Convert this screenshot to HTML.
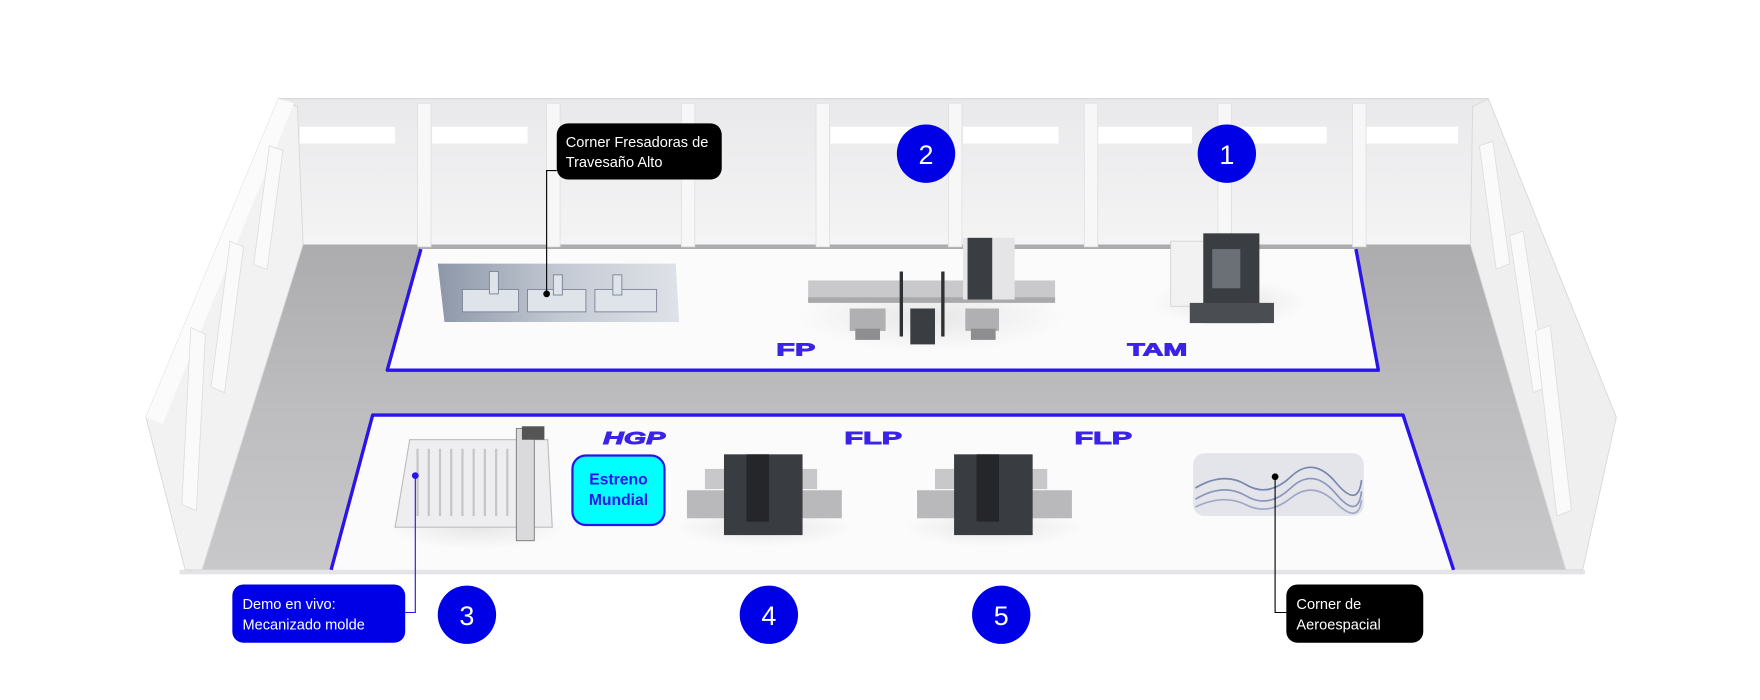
<!DOCTYPE html>
<html><head><meta charset="utf-8"><style>
html,body{margin:0;padding:0;background:#fff;width:1760px;height:700px;overflow:hidden}
svg{display:block}
text{font-family:"Liberation Sans",sans-serif}
</style></head><body>
<svg width="1760" height="700" viewBox="0 0 1568 624" preserveAspectRatio="none" xmlns="http://www.w3.org/2000/svg">
<defs>
<linearGradient id="fl" x1="0" y1="0" x2="0" y2="1"><stop offset="0" stop-color="#acacae"/><stop offset="0.5" stop-color="#bdbdbf"/><stop offset="1" stop-color="#c8c8ca"/></linearGradient>
<linearGradient id="bw" x1="0" y1="0" x2="0" y2="1"><stop offset="0" stop-color="#e9e9eb"/><stop offset="1" stop-color="#f4f4f5"/></linearGradient>
<linearGradient id="pan" x1="0" y1="0" x2="1" y2="0"><stop offset="0" stop-color="#8d97a8"/><stop offset="0.5" stop-color="#c3c9d3"/><stop offset="1" stop-color="#dfe2e8"/></linearGradient>
<radialGradient id="sh" cx="0.5" cy="0.5" r="0.5"><stop offset="0" stop-color="#000" stop-opacity="0.08"/><stop offset="1" stop-color="#000" stop-opacity="0"/></radialGradient>
</defs>
<polygon points="270,218 1310,218 1395,508 178,508" fill="url(#fl)"/>
<rect x="160" y="508" width="1252" height="4" fill="#e4e4e6"/>
<polygon points="248,88 1326,88 1312,95 1310,218 270,218 265,95" fill="url(#bw)"/>
<line x1="248" y1="88" x2="1326" y2="88" stroke="#d4d4d6" stroke-width="1"/>
<g fill="#ffffff">
<rect x="267" y="113" width="85" height="15"/><rect x="385" y="113" width="85" height="15"/><rect x="505" y="113" width="85" height="15"/>
<rect x="740" y="113" width="85" height="15"/><rect x="858" y="113" width="85" height="15"/><rect x="977" y="113" width="85" height="15"/>
<rect x="1097" y="113" width="85" height="15"/><rect x="1214" y="113" width="85" height="15"/>
</g>
<g fill="#f7f7f8" stroke="#dedee0" stroke-width="0.7">
<rect x="372" y="92" width="12" height="128"/><rect x="487" y="92" width="12" height="128"/><rect x="607" y="92" width="12" height="128"/>
<rect x="727" y="92" width="12" height="128"/><rect x="845" y="92" width="12" height="128"/><rect x="966" y="92" width="12" height="128"/>
<rect x="1085" y="92" width="12" height="128"/><rect x="1205" y="92" width="12" height="128"/>
</g>
<polygon points="248,88 265,95 270,218 180,508 165,508 130,372" fill="#f2f2f3" stroke="#d8d8da" stroke-width="0.8"/>
<polygon points="248,88 262,92 145,378 130,372" fill="#fbfbfb"/>
<g fill="#fafafa" stroke="#dcdcde" stroke-width="0.7">
<polygon points="240,130 252,134 238,240 226,236"/>
<polygon points="205,215 217,220 200,350 188,345"/>
<polygon points="170,292 183,298 175,455 162,450"/>
</g>
<polygon points="1326,88 1312,95 1310,218 1395,508 1410,508 1440,372" fill="#efeff0" stroke="#d8d8da" stroke-width="0.8"/>
<g fill="#fafafa" stroke="#dcdcde" stroke-width="0.7">
<polygon points="1318,130 1330,126 1345,235 1333,240"/>
<polygon points="1345,210 1357,206 1378,345 1366,350"/>
<polygon points="1368,295 1381,290 1400,455 1387,460"/>
</g>
<polygon points="375,222 1208,222 1228,330 345,330" fill="#fbfbfb"/>
<polyline points="375,222 345,330 1228,330 1208,222" fill="none" stroke="#2b14e8" stroke-width="3" stroke-linejoin="round"/>
<polygon points="332,370 1250,370 1295,508 295,508" fill="#fbfbfb"/>
<polyline points="295,508 332,370 1250,370 1295,508" fill="none" stroke="#2b14e8" stroke-width="3" stroke-linejoin="round"/>
<polygon points="390,235 602,235 605,287 396,287" fill="url(#pan)"/>
<g fill="#dfe3ea" stroke="#7a8394" stroke-width="0.8">
<rect x="412" y="258" width="50" height="20"/><rect x="470" y="258" width="52" height="20"/><rect x="530" y="258" width="55" height="20"/>
<rect x="436" y="242" width="8" height="20"/><rect x="493" y="245" width="8" height="18"/><rect x="546" y="245" width="8" height="18"/>
</g>
<ellipse cx="830" cy="282" rx="120" ry="32" fill="url(#sh)"/>
<rect x="720" y="250" width="220" height="18" fill="#c9c9cb"/>
<rect x="720" y="265" width="220" height="5" fill="#a9a9ab"/>
<rect x="858" y="212" width="46" height="55" fill="#e5e5e7"/>
<rect x="862" y="212" width="22" height="55" fill="#3a3d42"/>
<rect x="757" y="275" width="32" height="20" fill="#b0b0b2"/><rect x="762" y="293" width="22" height="10" fill="#8e8e90"/>
<rect x="860" y="275" width="30" height="20" fill="#b0b0b2"/><rect x="865" y="293" width="22" height="10" fill="#8e8e90"/>
<g stroke="#2d3035" stroke-width="3"><line x1="803" y1="242" x2="803" y2="300"/><line x1="840" y1="242" x2="840" y2="300"/></g>
<rect x="811" y="275" width="22" height="32" fill="#3a3d42"/>
<ellipse cx="1095" cy="270" rx="70" ry="22" fill="url(#sh)"/>
<rect x="1043" y="215" width="40" height="58" fill="#f2f2f3" stroke="#cfcfd2" stroke-width="0.7"/>
<rect x="1083" y="215" width="35" height="58" fill="#f2f2f3"/>
<rect x="1072" y="208" width="50" height="80" fill="#3a3d42"/>
<rect x="1080" y="222" width="25" height="35" fill="#6b6f76"/>
<rect x="1060" y="270" width="75" height="18" fill="#4a4d52"/>
<g font-size="16" font-weight="bold" fill="#3a22e8" stroke="#3a22e8" stroke-width="0.8" text-anchor="middle">
<text x="709" y="317" transform="translate(709,0) scale(1.7,1) translate(-709,0)">FP</text>
<text x="1031" y="317" transform="translate(1031,0) scale(1.6,1) translate(-1031,0)">TAM</text>
<text x="565" y="396" font-style="italic" transform="translate(565,0) scale(1.6,1) translate(-565,0)">HGP</text>
<text x="778" y="396" transform="translate(778,0) scale(1.7,1) translate(-778,0)">FLP</text>
<text x="983" y="396" transform="translate(983,0) scale(1.7,1) translate(-983,0)">FLP</text>
</g>
<ellipse cx="425" cy="470" rx="80" ry="20" fill="url(#sh)"/>
<polygon points="365,392 488,392 492,470 352,470" fill="#eeeef0" stroke="#bdbdc0" stroke-width="1"/>
<g stroke="#c6c6ca" stroke-width="2"><line x1="372" y1="400" x2="372" y2="460"/><line x1="382" y1="400" x2="382" y2="460"/><line x1="392" y1="400" x2="392" y2="460"/><line x1="402" y1="400" x2="402" y2="460"/><line x1="412" y1="400" x2="412" y2="460"/><line x1="422" y1="400" x2="422" y2="460"/><line x1="432" y1="400" x2="432" y2="460"/><line x1="442" y1="400" x2="442" y2="460"/><line x1="452" y1="400" x2="452" y2="460"/></g>
<rect x="460" y="382" width="16" height="100" fill="#dadadc" stroke="#777" stroke-width="0.8"/>
<rect x="465" y="380" width="20" height="12" fill="#555"/>
<g>
<ellipse cx="680" cy="470" rx="80" ry="18" fill="url(#sh)"/>
<rect x="612" y="437" width="138" height="25" fill="#b9b9bb"/>
<rect x="628" y="418" width="100" height="18" fill="#c8c8ca"/>
<rect x="645" y="405" width="70" height="72" fill="#393c41"/>
<rect x="665" y="405" width="20" height="60" fill="#24262a"/>
</g>
<g transform="translate(205,0)">
<ellipse cx="680" cy="470" rx="80" ry="18" fill="url(#sh)"/>
<rect x="612" y="437" width="138" height="25" fill="#b9b9bb"/>
<rect x="628" y="418" width="100" height="18" fill="#c8c8ca"/>
<rect x="645" y="405" width="70" height="72" fill="#393c41"/>
<rect x="665" y="405" width="20" height="60" fill="#24262a"/>
</g>
<rect x="1063" y="404" width="152" height="56" rx="10" fill="#e3e5ea"/>
<path d="M1065,435 Q1090,420 1110,432 T1150,425 T1190,430 T1213,428" stroke="#7b86b0" stroke-width="1.5" fill="none"/>
<path d="M1065,445 Q1090,430 1110,442 T1150,435 T1190,440 T1213,438" stroke="#8d96bb" stroke-width="1.5" fill="none"/>
<path d="M1065,452 Q1090,440 1110,450 T1150,444 T1190,448 T1213,446" stroke="#a0a8c6" stroke-width="1.5" fill="none"/>
<rect x="510" y="406" width="82" height="62" rx="12" fill="#00ffff" stroke="#2b14e8" stroke-width="2"/>
<text x="551" y="432" font-size="14" font-weight="bold" fill="#2b14e8" text-anchor="middle">Estreno</text>
<text x="551" y="450" font-size="14" font-weight="bold" fill="#2b14e8" text-anchor="middle">Mundial</text>
<polyline points="487,262 487,152 496,152" fill="none" stroke="#000" stroke-width="1"/>
<circle cx="487" cy="262" r="3" fill="#000"/>
<polyline points="370,424 370,546 361,546" fill="none" stroke="#2b14e8" stroke-width="1"/>
<circle cx="370" cy="424" r="3" fill="#2b14e8"/>
<polyline points="1136,425 1136,546 1146,546" fill="none" stroke="#000" stroke-width="1"/>
<circle cx="1136" cy="425" r="3" fill="#000"/>
<rect x="496" y="110" width="147" height="50" rx="10" fill="#000"/>
<text x="504" y="131" font-size="13" fill="#fff">Corner Fresadoras de</text>
<text x="504" y="149" font-size="13" fill="#fff">Travesaño Alto</text>
<rect x="207" y="521" width="154" height="52" rx="10" fill="#0000e6"/>
<text x="216" y="543" font-size="13" fill="#fff">Demo en vivo:</text>
<text x="216" y="561" font-size="13" fill="#fff">Mecanizado molde</text>
<rect x="1146" y="521" width="122" height="52" rx="10" fill="#000"/>
<text x="1155" y="543" font-size="13" fill="#fff">Corner de</text>
<text x="1155" y="561" font-size="13" fill="#fff">Aeroespacial</text>
<g fill="#0000e6"><circle cx="825" cy="137" r="26"/><circle cx="1093" cy="137" r="26"/><circle cx="416" cy="548" r="26"/><circle cx="685" cy="548" r="26"/><circle cx="892" cy="548" r="26"/></g>
<g fill="#fff" font-size="24" text-anchor="middle">
<text x="825" y="146">2</text><text x="1093" y="146">1</text><text x="416" y="557">3</text><text x="685" y="557">4</text><text x="892" y="557">5</text>
</g>
</svg>
</body></html>
